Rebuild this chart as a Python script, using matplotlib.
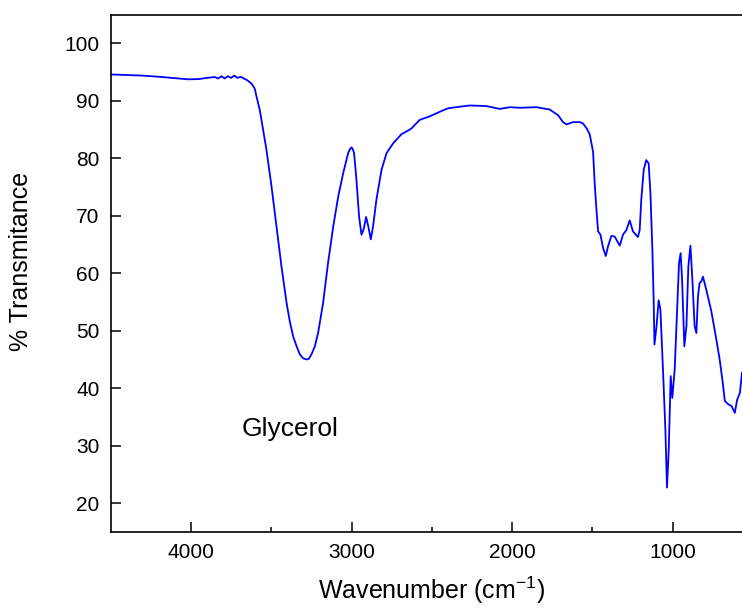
import matplotlib.pyplot as plt

plt.rcParams['font.family'] = ['Liberation Sans', 'DejaVu Sans']
plt.rcParams['mathtext.default'] = 'regular'

# FTIR spectrum of glycerol
wavenumber = [4500, 4400, 4300, 4200, 4120, 4017, 3950, 3900, 3851, 3830,
              3810, 3790, 3770, 3750, 3730, 3710, 3690, 3670, 3650, 3622,
              3602, 3591, 3571, 3560, 3529, 3498, 3467, 3436, 3404, 3384,
              3363, 3342, 3322, 3301, 3280, 3266, 3249, 3228, 3208, 3177,
              3146, 3114, 3083, 3052, 3021, 3010, 3000, 2992, 2984, 2969,
              2953, 2938, 2923, 2909, 2895, 2880, 2866, 2845, 2813, 2782,
              2741, 2689, 2650, 2627, 2575, 2513, 2451, 2400, 2350, 2264,
              2160, 2077, 2015, 1953, 1849, 1766, 1714, 1683, 1662, 1621,
              1579, 1560, 1538, 1517, 1496, 1486, 1475, 1465, 1450, 1434,
              1417, 1403, 1382, 1362, 1330, 1310, 1289, 1268, 1248, 1217,
              1206, 1196, 1181, 1165, 1150, 1139, 1127, 1119, 1114, 1101,
              1088, 1077, 1061, 1046, 1036, 1025, 1013, 1003, 988, 974,
              961, 951, 942, 928, 915, 903, 890, 878, 864, 853,
              843, 833, 822, 812, 791, 760, 729, 708, 690, 676,
              655, 634, 614, 599, 582, 569]
transmittance = [94.6, 94.5, 94.4, 94.2, 94.0, 93.75, 93.8, 94.0, 94.15, 93.9,
                 94.3, 93.9, 94.3, 94.0, 94.4, 94.0, 94.2, 93.9, 93.6, 93.0,
                 92.1, 90.7, 88.4, 86.6, 81.4, 75.1, 68.1, 61.2, 54.8, 51.6,
                 49.0, 47.3, 45.9, 45.2, 45.0, 45.1, 45.9, 47.3, 49.6, 54.8,
                 61.8, 68.1, 73.3, 77.4, 80.9, 81.6, 81.9, 81.6, 80.9, 76.2,
                 69.9, 66.7, 67.8, 69.8, 68.1, 65.9, 68.1, 72.8, 78.0, 80.9,
                 82.6, 84.2, 84.8, 85.2, 86.7, 87.3, 88.1, 88.7, 88.9, 89.2,
                 89.1, 88.6, 88.9, 88.8, 88.9, 88.5, 87.5, 86.3, 85.9, 86.3,
                 86.3, 86.1, 85.3, 84.2, 81.1, 75.6, 71.0, 67.3, 66.7, 64.4,
                 63.0, 64.7, 66.5, 66.4, 64.8, 66.7, 67.5, 69.2, 67.3, 66.3,
                 67.5, 72.8, 78.0, 79.7, 79.1, 73.9, 64.1, 55.4, 47.6, 50.8,
                 55.3, 53.7, 43.3, 32.8, 22.7, 29.4, 42.1, 38.3, 43.3, 53.1,
                 61.8, 63.5, 58.9, 47.3, 50.8, 61.2, 64.8, 58.9, 50.8, 49.6,
                 56.0, 58.3, 58.6, 59.4, 57.1, 53.4, 48.5, 45.0, 41.2, 37.8,
                 37.2, 36.9, 35.7, 38.0, 39.2, 42.7]

x_major = [4000, 3000, 2000, 1000]
x_minor = [3500, 2500, 1500]
y_ticks = [20, 30, 40, 50, 60, 70, 80, 90, 100]

fig = plt.figure(figsize=(7.42, 6.12), dpi=100)
ax = fig.add_axes([0.149, 0.131, 0.851, 0.845])

ax.plot(wavenumber, transmittance, color='#0000ff', lw=1.3)

ax.set_xlim(4500, 569)
ax.set_ylim(15, 105)
ax.set_xticks(x_major)
ax.set_xticks(x_minor, minor=True)
ax.set_yticks(y_ticks)

ax.tick_params(axis='both', which='major', direction='in', length=7,
               width=1.1, labelsize=15, pad=8)
ax.tick_params(axis='x', which='minor', direction='in', length=3.5, width=1.1)
ax.tick_params(top=False, right=False)
for side in ['left', 'bottom', 'top']:
    ax.spines[side].set_linewidth(1.2)
ax.spines['right'].set_visible(False)

ax.set_xlabel('Wavenumber (cm$^{-1}$)', fontsize=18)
ax.set_ylabel('% Transmitance', fontsize=18)
ax.xaxis.set_label_coords(0.509, -0.083)
ax.yaxis.set_label_coords(-0.123, 0.522)

ax.text(3385, 31.6, 'Glycerol', fontsize=19, ha='center', va='baseline')

fig.savefig('out.png', dpi=100)
